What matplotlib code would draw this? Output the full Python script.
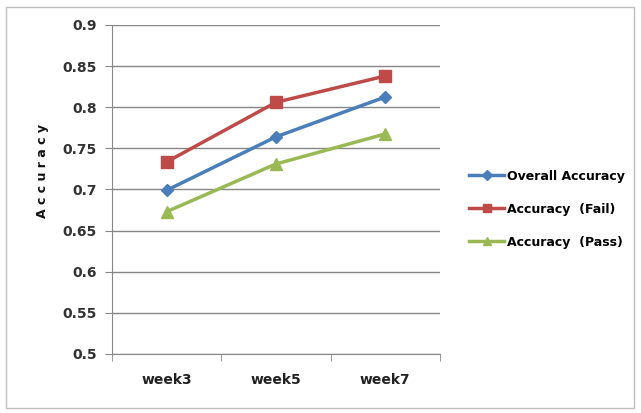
import matplotlib.pyplot as plt
import matplotlib.patches as patches
import numpy as np

weeks = ['week3', 'week5', 'week7']
overall = [0.699, 0.764, 0.8125]
fail = [0.7335, 0.806, 0.838]
passed = [0.673, 0.731, 0.7675]

plt.rcParams['font.family'] = 'DejaVu Sans'

fig = plt.figure(figsize=(6.41, 4.13), dpi=100)
ax = fig.add_axes([0.1747, 0.143, 0.5117, 0.7965])

# outer chart border
fig.patches.append(patches.Rectangle((0.009, 0.012), 0.98, 0.972, transform=fig.transFigure,
                                     fill=False, edgecolor='#bfbfbf', lw=1))

x = np.arange(len(weeks))
ax.plot(x, overall, color='#4A7EBB', lw=2.5, marker='D', ms=6, label='Overall Accuracy')
ax.plot(x, fail, color='#BE4B48', lw=2.5, marker='s', ms=8, label='Accuracy  (Fail)')
ax.plot(x, passed, color='#98B954', lw=2.5, marker='^', ms=8, label='Accuracy  (Pass)')

ax.set_xlim(-0.5, 2.5)
ax.set_ylim(0.5, 0.9)
ax.set_yticks(np.arange(0.5, 0.901, 0.05))
ax.set_yticklabels(['0.5', '0.55', '0.6', '0.65', '0.7', '0.75', '0.8', '0.85', '0.9'],
                   fontsize=10, fontweight='bold', color='#333333')
ax.set_xticks(x)
ax.set_xticklabels(weeks, fontsize=10, fontweight='bold', color='#222222')
ax.set_xticks([-0.5, 0.5, 1.5, 2.5], minor=True)
ax.tick_params(axis='x', which='major', length=0, pad=14)
ax.tick_params(axis='x', which='minor', length=5, color='#868686', direction='out')
ax.tick_params(axis='y', length=5, color='#868686', pad=6)
ax.yaxis.grid(True, color='#868686', lw=1)
ax.set_axisbelow(True)
for s in ['top', 'right']:
    ax.spines[s].set_visible(False)
for s in ['left', 'bottom']:
    ax.spines[s].set_color('#868686')

fig.text(0.067, 0.585, 'A c c u r a c y', rotation=90, ha='center', va='center',
         fontsize=9, fontweight='bold', color='#111111')

ax.legend(loc='center left', bbox_to_anchor=(1.055, 0.44), frameon=False,
          prop={'size': 9, 'weight': 'bold'}, handlelength=2.8, labelspacing=1.6,
          handletextpad=0.2, markerscale=0.8)

plt.savefig('out.png')
